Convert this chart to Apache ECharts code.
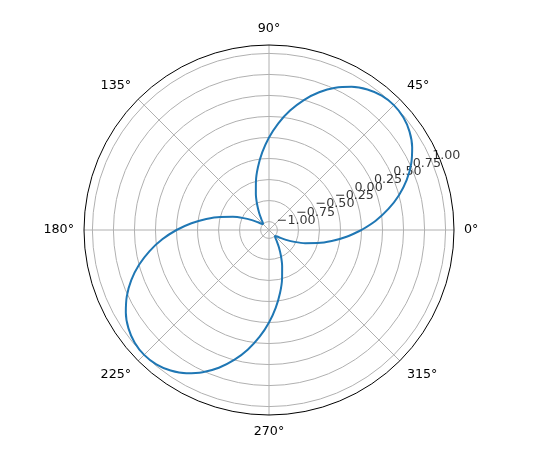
<!DOCTYPE html>
<html>
<head>
<meta charset="utf-8">
<script src="https://cdn.jsdelivr.net/npm/echarts@6/dist/echarts.min.js"></script>
<style>
  html, body { margin: 0; padding: 0; background: #fff; }
  #main { width: 541px; height: 458px; }
</style>
</head>
<body>
<div id="main"></div>
<script>
// angle (degrees) and radius
const angles = [
  0, 5, 10, 15, 20, 25, 30, 35, 40, 45, 50, 55, 60, 65, 70, 75, 80, 85,
  90, 95, 100, 105, 110, 115, 120, 125, 130, 135, 140, 145, 150, 155, 160, 165, 170, 175,
  180, 185, 190, 195, 200, 205, 210, 215, 220, 225, 230, 235, 240, 245, 250, 255, 260, 265,
  270, 275, 280, 285, 290, 295, 300, 305, 310, 315, 320, 325, 330, 335, 340, 345, 350, 355, 360
];
const radii = [
  0, 0.174, 0.342, 0.5, 0.643, 0.766, 0.866, 0.94, 0.985, 1, 0.985, 0.94, 0.866, 0.766, 0.643, 0.5, 0.342, 0.174,
  0, -0.174, -0.342, -0.5, -0.643, -0.766, -0.866, -0.94, -0.985, -1, -0.985, -0.94, -0.866, -0.766, -0.643, -0.5, -0.342, -0.174,
  0, 0.174, 0.342, 0.5, 0.643, 0.766, 0.866, 0.94, 0.985, 1, 0.985, 0.94, 0.866, 0.766, 0.643, 0.5, 0.342, 0.174,
  0, -0.174, -0.342, -0.5, -0.643, -0.766, -0.866, -0.94, -0.985, -1, -0.985, -0.94, -0.866, -0.766, -0.643, -0.5, -0.342, -0.174,
  0
];
const radialTicks = [-1, -0.75, -0.5, -0.25, 0, 0.25, 0.5, 0.75, 1];
const radialTickLabels = ['\u22121.00', '\u22120.75', '\u22120.50', '\u22120.25', '0.00', '0.25', '0.50', '0.75', '1.00'];
const labelAngle = 22.5;

const font = 'DejaVu Sans';
const chart = echarts.init(document.getElementById('main'));

const curve = angles.map((a, i) => [radii[i], a]);
const tickLabels = radialTicks.map((r, i) => ({ value: [r, labelAngle], name: radialTickLabels[i] }));

chart.setOption({
  animation: false,
  polar: { center: [269, 230], radius: 185 },
  angleAxis: {
    type: 'value',
    min: 0,
    max: 360,
    interval: 45,
    startAngle: 0,
    clockwise: false,
    axisLine: { lineStyle: { color: '#000', width: 1 } },
    axisTick: { show: false },
    axisLabel: {
      margin: 10,
      color: '#000',
      fontFamily: font,
      fontSize: 12.7,
      formatter: v => (v === 360 ? '' : v + '°')
    },
    splitLine: { lineStyle: { color: '#b0b0b0', width: 1 } }
  },
  radiusAxis: {
    type: 'value',
    min: -1.1,
    max: 1.1,
    axisLine: { show: false },
    axisTick: { show: false, customValues: radialTicks },
    axisLabel: { show: false },
    splitLine: { show: true, lineStyle: { color: '#b0b0b0', width: 1 } }
  },
  series: [
    {
      type: 'line',
      coordinateSystem: 'polar',
      data: curve,
      smooth: 0.3,
      showSymbol: false,
      silent: true,
      lineStyle: { color: '#1f77b4', width: 2 }
    },
    {
      type: 'scatter',
      coordinateSystem: 'polar',
      data: tickLabels,
      symbolSize: 0,
      silent: true,
      label: {
        show: true,
        position: [0, 0],
        align: 'left',
        verticalAlign: 'bottom',
        color: '#000',
        fontFamily: font,
        fontSize: 12.7,
        formatter: p => p.name
      }
    }
  ]
});
</script>
</body>
</html>
